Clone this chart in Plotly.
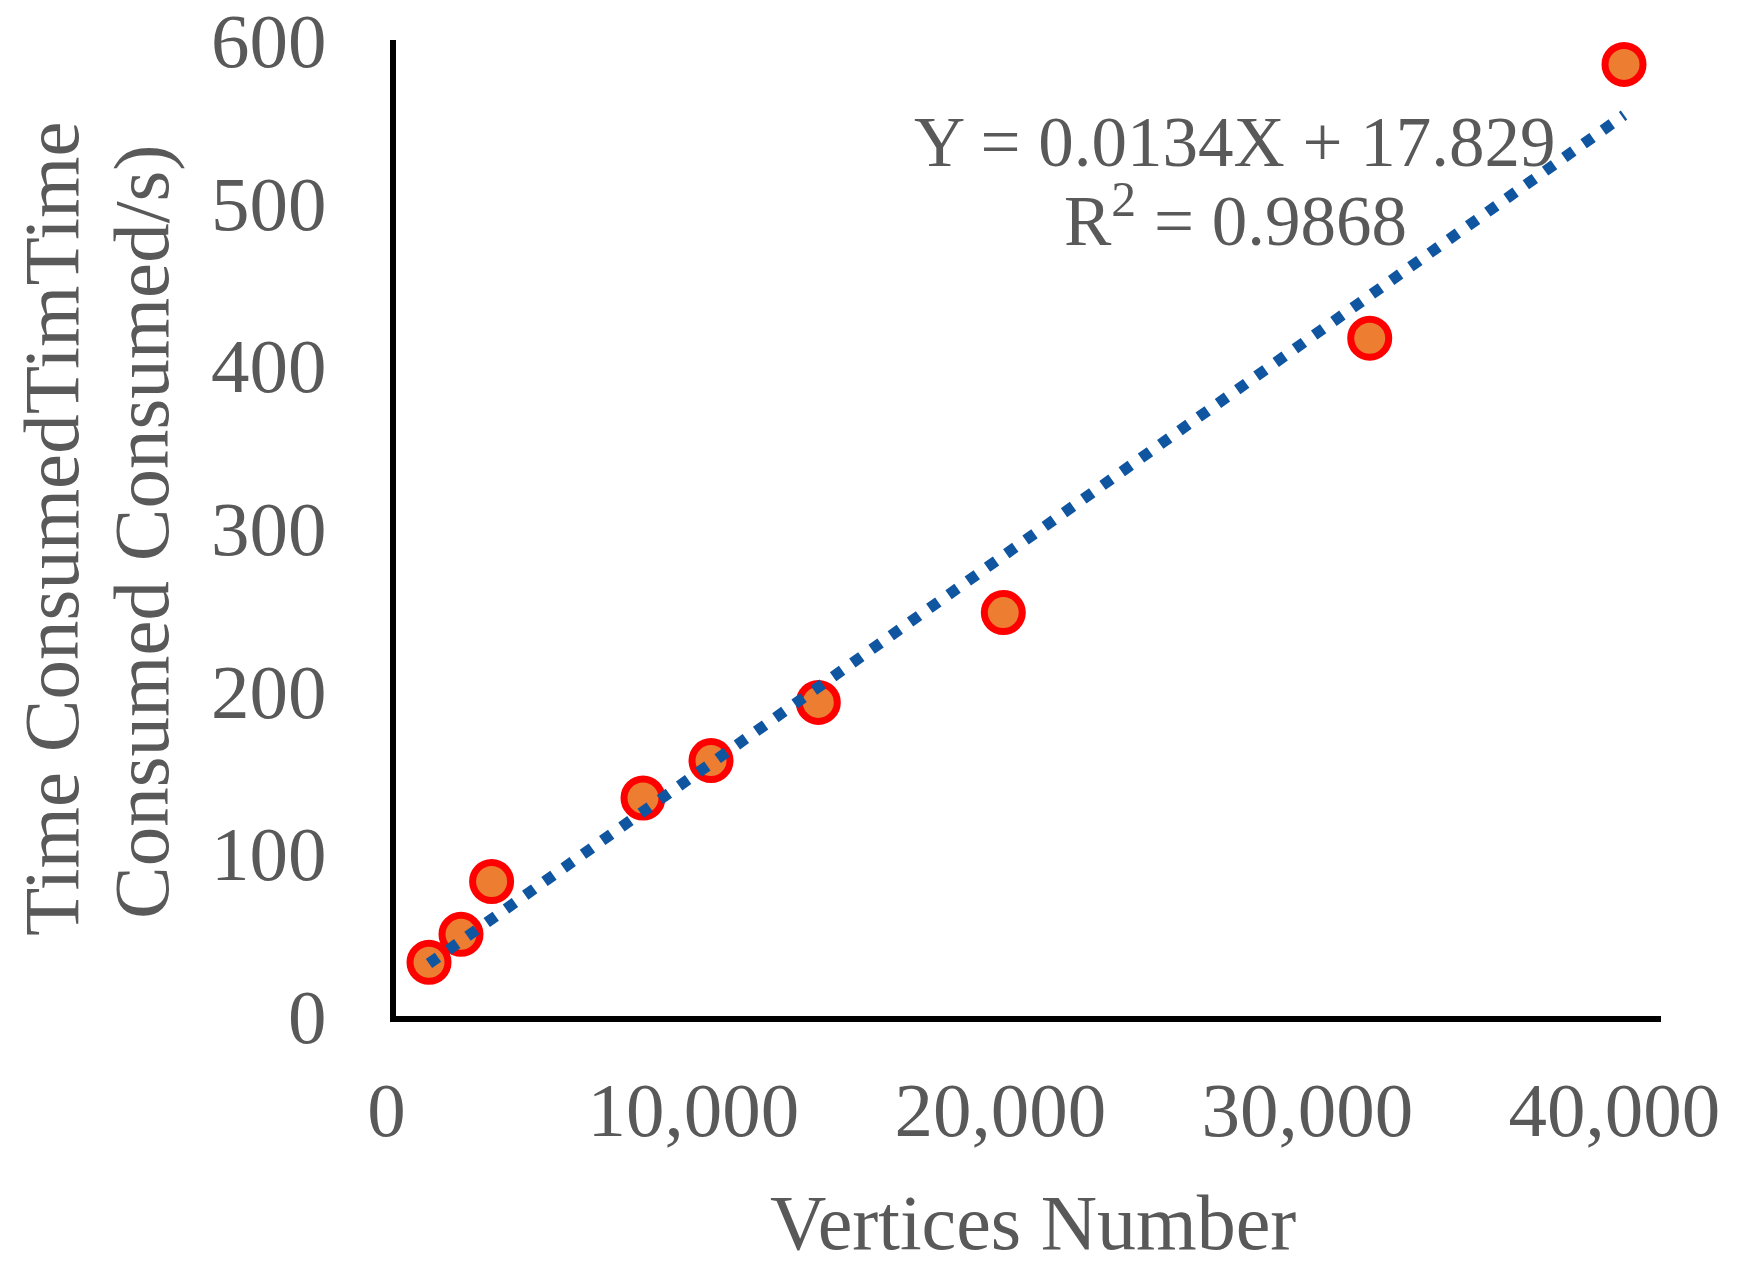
import plotly.graph_objects as go

# data
vertices = [1075, 2117, 3114, 8046, 10261, 13756, 19782, 31717, 40000]
time_s = [33.0, 50.2, 82.7, 134.0, 157.0, 192.8, 248.0, 416.7, 585.0]

# linear trend shown on the chart
slope = 0.0134
intercept = 17.829
r_squared = 0.9868

x_ticks = [0, 10000, 20000, 30000, 40000]
y_ticks = [0, 100, 200, 300, 400, 500, 600]

W, H = 1738, 1264
left, right, top, bottom = 396, 77, 40, 248
grey = "#595959"
serif = "Liberation Serif, Times New Roman, serif"


def px_x(p):
    return (p - left) / (W - left - right)


def px_y(p):
    return 1 - (p - top) / (H - top - bottom)


trend_x = [min(vertices), max(vertices)]
trend_y = [slope * v + intercept for v in trend_x]

# Excel sets its x labels a little left of the tick, a trailing nbsp does the same
x_labels = [f"{v:,}\u00a0" for v in x_ticks]

fig = go.Figure()

fig.add_trace(
    go.Scatter(
        x=vertices,
        y=time_s,
        mode="markers",
        marker=dict(size=38, color="#ED7D31", line=dict(color="#FF0000", width=7)),
        cliponaxis=False,
        showlegend=False,
    )
)

fig.add_trace(
    go.Scatter(
        x=trend_x,
        y=trend_y,
        mode="lines",
        line=dict(color="#0F55A0", width=11, dash="11px,12.6px"),
        cliponaxis=False,
        showlegend=False,
    )
)

fig.update_layout(
    width=W,
    height=H,
    margin=dict(l=left, r=right, t=top, b=bottom),
    paper_bgcolor="white",
    plot_bgcolor="white",
    font=dict(family=serif, color=grey, size=77),
    xaxis=dict(
        range=[0, 41205],
        tickvals=x_ticks,
        ticktext=x_labels,
        showgrid=False,
        zeroline=False,
        showline=True,
        linecolor="black",
        linewidth=6,
        ticks="",
        ticklabelstandoff=22,
        ticklabeloverflow="allow",
        automargin=False,
        tickfont=dict(size=77, color=grey),
    ),
    yaxis=dict(
        range=[0, 600],
        tickvals=y_ticks,
        showgrid=False,
        zeroline=False,
        showline=True,
        linecolor="black",
        linewidth=6,
        ticks="",
        ticklabelstandoff=48,
        ticklabeloverflow="allow",
        automargin=False,
        tickfont=dict(size=77, color=grey),
    ),
    annotations=[
        dict(
            text=f"Y = {slope}X + {intercept}",
            x=px_x(1235), y=px_y(142), xref="paper", yref="paper",
            xanchor="center", yanchor="middle", showarrow=False, height=70,
            font=dict(size=71, color=grey),
        ),
        dict(
            text=f"R<sup>2</sup> = {r_squared}",
            x=px_x(1235), y=px_y(216), xref="paper", yref="paper",
            xanchor="center", yanchor="middle", showarrow=False, height=70,
            font=dict(size=71, color=grey),
        ),
        dict(
            text="Time ConsumedTimTime",
            x=px_x(51), y=px_y(529), xref="paper", yref="paper",
            xanchor="center", yanchor="middle", showarrow=False, textangle=-90,
            font=dict(size=79, color=grey),
        ),
        dict(
            text="Consumed Consumed/s)",
            x=px_x(141), y=px_y(532), xref="paper", yref="paper",
            xanchor="center", yanchor="middle", showarrow=False, textangle=-90,
            font=dict(size=79, color=grey),
        ),
        dict(
            text="Vertices Number",
            x=px_x(1033), y=px_y(1222), xref="paper", yref="paper",
            xanchor="center", yanchor="middle", showarrow=False,
            font=dict(size=78, color=grey),
        ),
    ],
)

# drop the page's default body margin so the figure sits at the window corner
fig.write_html(
    "out.html",
    config={"displayModeBar": False},
    post_script="document.body.style.margin='0';",
)
